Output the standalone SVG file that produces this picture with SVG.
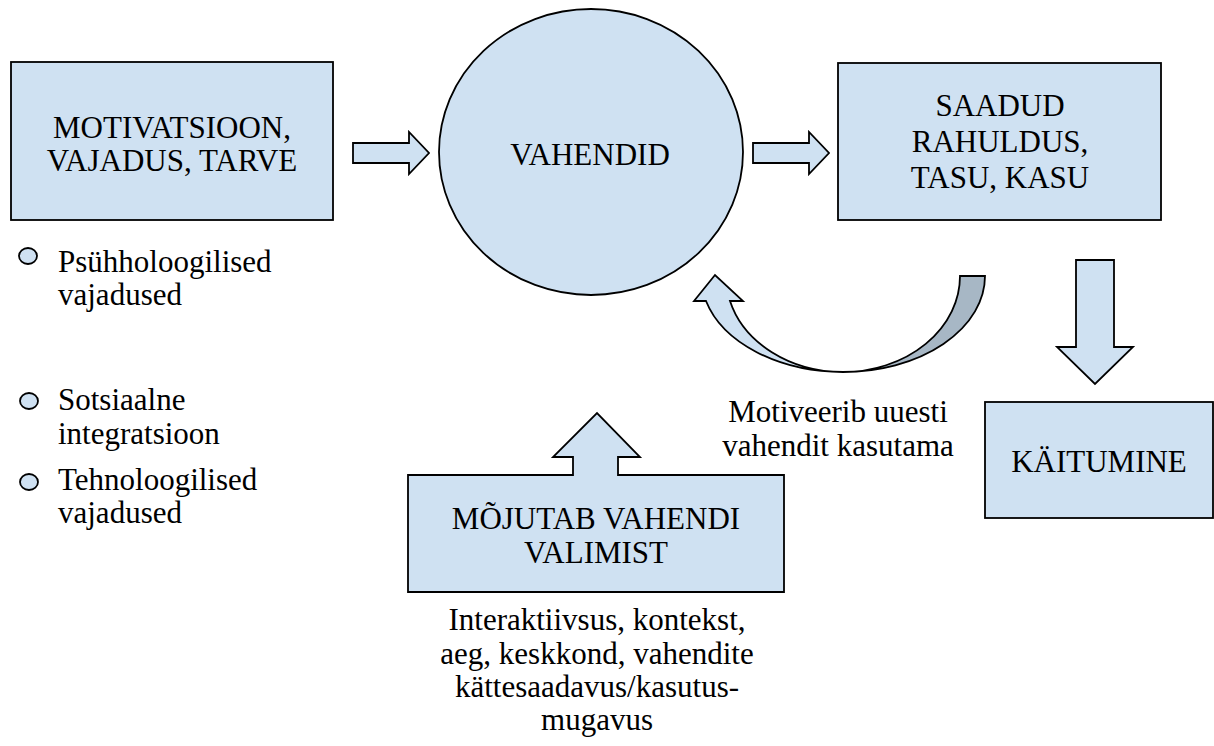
<svg xmlns="http://www.w3.org/2000/svg" width="1214" height="746" viewBox="0 0 1214 746" font-family="Liberation Serif, Times New Roman, DejaVu Serif, serif" font-size="31">
<style>
.shape{fill:#cfe1f2;stroke:#000;stroke-width:1.8;stroke-linejoin:miter}
.back{fill:#a7b7c5;stroke:#000;stroke-width:1.8}
.t{text-anchor:middle}
.bul{fill:#cfe1f2;stroke:#000;stroke-width:1.8}
</style>
<rect width="1214" height="746" fill="#fff"/>
<g id="motivatsioon">
<rect class="shape" x="11" y="62" width="322" height="158"/>
<text class="t" x="172" y="138">MOTIVATSIOON,</text>
<text class="t" x="172" y="171">VAJADUS, TARVE</text>
</g>
<g id="vajadused-list">
<ellipse class="bul" cx="28" cy="256" rx="9" ry="8"/>
<text x="58" y="272">Psühholoogilised</text>
<text x="58" y="305">vajadused</text>
<ellipse class="bul" cx="29" cy="401" rx="9" ry="8"/>
<text x="58" y="410">Sotsiaalne</text>
<text x="58" y="444">integratsioon</text>
<ellipse class="bul" cx="29" cy="482" rx="9" ry="8"/>
<text x="58" y="490">Tehnoloogilised</text>
<text x="58" y="523">vajadused</text>
</g>
<g id="vahendid">
<ellipse class="shape" cx="591" cy="152" rx="152" ry="143"/>
<text class="t" x="590" y="165">VAHENDID</text>
</g>
<g id="saadud">
<rect class="shape" x="838" y="63" width="323" height="157"/>
<text class="t" x="1000" y="116">SAADUD</text>
<text class="t" x="1000" y="152">RAHULDUS,</text>
<text class="t" x="1000" y="188">TASU, KASU</text>
</g>
<g id="kaitumine">
<rect class="shape" x="985" y="402" width="228" height="116"/>
<text class="t" x="1099" y="472">KÄITUMINE</text>
</g>
<g id="mojutab">
<path class="shape" d="M408,475 L573,475 L573,457 L553,457 L597,413 L640,457 L618,457 L618,475 L784,475 L784,592 L408,592 Z"/>
<text class="t" x="596" y="529">MÕJUTAB VAHENDI</text>
<text class="t" x="596" y="563">VALIMIST</text>
<text class="t" x="597" y="630">Interaktiivsus, kontekst,</text>
<text class="t" x="597" y="664">aeg, keskkond, vahendite</text>
<text class="t" x="597" y="697">kättesaadavus/kasutus-</text>
<text class="t" x="597" y="730">mugavus</text>
</g>
<g id="connectors">
<path class="shape" d="M353,143 L409,143 L409,132 L429,153 L409,174 L409,163 L353,163 Z"/>
<path class="shape" d="M753,143 L809,143 L809,132 L829,153 L809,174 L809,163 L753,163 Z"/>
<path class="shape" d="M1076,260 L1114,260 L1114,347 L1133,347 L1095,384 L1057,347 L1076,347 Z"/>
<path class="back" d="M960,276 L985,276 A142,96 0 0 1 843,372 A117,96 0 0 0 960,276 Z"/>
<path class="shape" d="M843,372 A142,96 0 0 1 706,301 L694,301 L715,275 L743,301 L730,301 A117,96 0 0 0 843,372 Z"/>
<text class="t" x="838" y="422">Motiveerib uuesti</text>
<text class="t" x="838" y="456">vahendit kasutama</text>
</g>
</svg>
